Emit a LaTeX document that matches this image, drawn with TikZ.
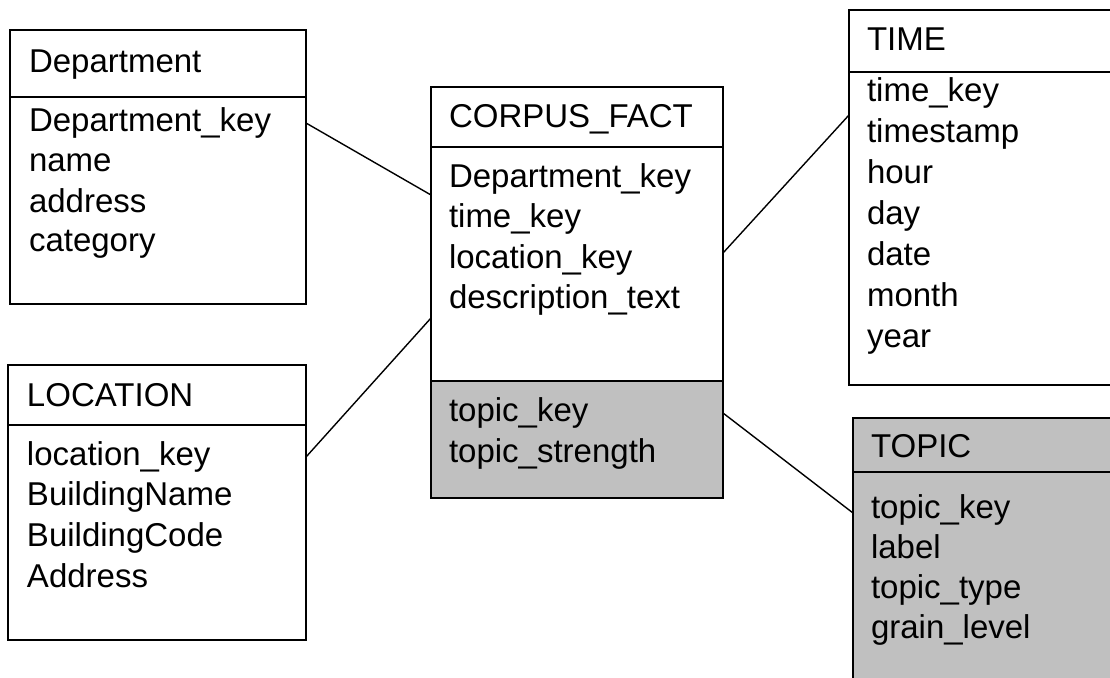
\documentclass[tikz,border=0pt]{standalone}
\usepackage{fontspec}
\setmainfont{Liberation Sans}
\usetikzlibrary{calc}
\definecolor{boxgray}{HTML}{C0C0C0}
\begin{document}
\begin{tikzpicture}[x=1pt,y=-1pt,
  box/.style={draw=black, line width=1.3pt, inner sep=0pt, outer sep=0pt, anchor=north west},
  graybox/.style={box, fill=boxgray},
  txt/.style={anchor=base west, inner sep=0pt, outer sep=0pt, font=\fontsize{33}{40}\selectfont},
  sep/.style={draw=black, line width=1.6pt},
  link/.style={draw=black, line width=1.4pt}]
\useasboundingbox (0,0) rectangle (1110,677);

% Department
\node[box, minimum width=296pt, minimum height=274pt] (dept) at (10,30) {};
\draw[sep] ($(dept.north west)+(0,67)$) -- ($(dept.north east)+(0,67)$);
\node[txt] (deptT) at (29,72) {Department};
\node[txt] (deptF1) at (29,131) {Department\_key};
\node[txt] (deptF2) at (29,171) {name};
\node[txt] (deptF3) at (29,212) {address};
\node[txt] (deptF4) at (29,251) {category};

% LOCATION
\node[box, minimum width=298pt, minimum height=275pt] (loc) at (8,365) {};
\draw[sep] ($(loc.north west)+(0,60)$) -- ($(loc.north east)+(0,60)$);
\node[txt] (locT) at (27,406) {LOCATION};
\node[txt] (locF1) at (27,465) {location\_key};
\node[txt] (locF2) at (27,505) {BuildingName};
\node[txt] (locF3) at (27,546) {BuildingCode};
\node[txt] (locF4) at (27,587) {Address};

% CORPUS_FACT
\node[graybox, minimum width=292pt, minimum height=117pt] (factB) at (431,381) {};
\node[box, minimum width=292pt, minimum height=294pt] (fact) at (431,87) {};
\draw[sep] ($(fact.north west)+(0,60)$) -- ($(fact.north east)+(0,60)$);
\node[txt] (factT) at (449,127) {CORPUS\_FACT};
\node[txt] (factF1) at (449,187) {Department\_key};
\node[txt] (factF2) at (449,227) {time\_key};
\node[txt] (factF3) at (449,268) {location\_key};
\node[txt] (factF4) at (449,308) {description\_text};
\node[txt] (factF5) at (449,421) {topic\_key};
\node[txt] (factF6) at (449,462) {topic\_strength};

% TIME
\node[box, minimum width=280pt, minimum height=375pt] (time) at (849,10) {};
\draw[sep] ($(time.north west)+(0,62)$) -- ($(time.north east)+(0,62)$);
\node[txt] (timeT) at (867,51) {TIME};
\node[txt] (timeF1) at (867,101) {time\_key};
\node[txt] (timeF2) at (867,142) {timestamp};
\node[txt] (timeF3) at (867,183) {hour};
\node[txt] (timeF4) at (867,224) {day};
\node[txt] (timeF5) at (867,265) {date};
\node[txt] (timeF6) at (867,306) {month};
\node[txt] (timeF7) at (867,347) {year};

% TOPIC
\node[graybox, minimum width=280pt, minimum height=290pt] (topic) at (853,418) {};
\draw[sep] ($(topic.north west)+(0,54)$) -- ($(topic.north east)+(0,54)$);
\node[txt] (topicT) at (871,457) {TOPIC};
\node[txt] (topicF1) at (871,518) {topic\_key};
\node[txt] (topicF2) at (871,558) {label};
\node[txt] (topicF3) at (871,598) {topic\_type};
\node[txt] (topicF4) at (871,638) {grain\_level};

% connectors
\coordinate (c1a) at ($(dept.north east)+(0,93)$);
\coordinate (c1b) at ($(fact.north west)+(0,108)$);
\draw[link] (c1a) -- (c1b);
\coordinate (c2a) at ($(loc.north east)+(0,92)$);
\coordinate (c2b) at ($(fact.north west)+(0,231)$);
\draw[link] (c2a) -- (c2b);
\coordinate (c3a) at ($(fact.north east)+(0,166)$);
\coordinate (c3b) at ($(time.north west)+(0,105)$);
\draw[link] (c3a) -- (c3b);
\coordinate (c4a) at ($(factB.north east)+(0,32)$);
\coordinate (c4b) at ($(topic.north west)+(0,95)$);
\draw[link] (c4a) -- (c4b);
\end{tikzpicture}
\end{document}
